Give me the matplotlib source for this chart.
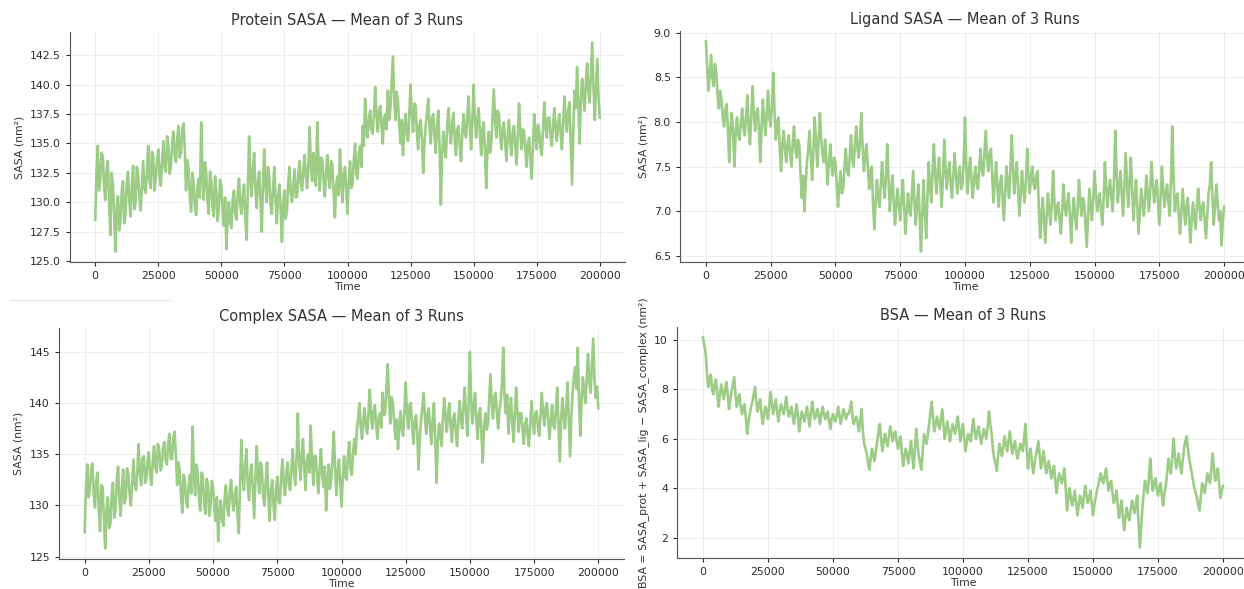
import matplotlib
matplotlib.use("Agg")
import matplotlib.pyplot as plt
from matplotlib.lines import Line2D

# time axis, one frame every 500
time = list(range(0, 200001, 500))

protein = [
    128.5, 132.6, 134.8, 131.0, 132.0, 134.2, 133.9, 131.4, 130.2, 132.8, 133.5, 130.0, 127.2, 132.5, 131.5, 128.8, 125.8, 129.4, 130.5, 127.6,
    128.4, 130.9, 131.8, 128.2, 129.0, 131.6, 132.6, 130.1, 128.8, 131.2, 133.1, 129.4, 130.0, 133.0, 132.4, 130.5, 129.3, 131.4, 133.5, 131.1,
    130.8, 132.6, 134.8, 131.9, 131.2, 134.3, 133.9, 131.0, 132.0, 133.6, 134.5, 132.2, 131.4, 133.5, 135.2, 133.0, 132.6, 135.6, 134.8, 132.4,
    133.0, 135.1, 136.0, 134.0, 133.4, 135.4, 136.5, 133.8, 134.2, 136.2, 136.7, 134.5, 131.0, 133.6, 132.8, 130.4, 129.2, 132.5, 131.6, 129.6,
    128.9, 131.2, 132.0, 130.4, 136.8, 132.4, 130.2, 133.4, 132.5, 130.1, 129.0, 132.6, 131.8, 129.6, 128.8, 132.2, 131.0, 128.4, 129.5, 131.9,
    131.4, 129.2, 128.0, 130.4, 126.0, 128.6, 130.0, 128.2, 127.8, 130.2, 131.0, 129.0, 128.5, 130.8, 132.0, 129.8, 129.0, 130.6, 131.5, 128.6,
    126.8, 131.0, 135.6, 132.0, 130.5, 132.8, 134.2, 131.0, 129.5, 131.8, 132.6, 130.2, 127.5, 131.5, 134.5, 131.4, 130.0, 133.0, 132.0, 129.8,
    129.0, 131.2, 133.0, 130.0, 128.2, 130.6, 131.5, 129.4, 126.6, 129.8, 131.0, 128.6, 129.2, 131.6, 133.0, 130.8, 130.0, 131.4, 132.8, 130.4,
    130.5, 132.4, 133.5, 131.6, 131.0, 132.8, 134.0, 132.2, 131.2, 133.2, 136.4, 133.0, 131.8, 134.2, 133.0, 131.4, 136.8, 133.4, 131.0, 133.8,
    133.6, 131.8, 130.5, 132.6, 134.0, 132.0, 131.2, 133.5, 133.2, 130.8, 128.7, 131.4, 132.2, 130.6, 134.5, 132.0, 130.0, 132.4, 133.0, 131.0,
    129.0, 131.8, 133.5, 131.2, 131.5, 133.6, 135.0, 132.4, 132.0, 134.2, 134.8, 133.0, 136.5, 134.8, 138.8, 136.0, 135.5, 137.2, 137.8, 136.2,
    135.8, 137.6, 139.8, 137.4, 136.0, 137.8, 138.2, 136.4, 135.0, 137.2, 137.5, 136.2, 139.5, 137.0, 138.0, 140.2, 142.4, 139.0, 137.0, 139.4,
    138.5, 136.6, 135.0, 137.0, 134.0, 136.4, 137.5, 135.8, 135.2, 137.6, 140.0, 137.4, 136.0, 138.4, 138.2, 136.0, 134.5, 136.6, 137.0, 135.4,
    132.5, 135.0, 136.5, 137.6, 138.8, 136.4, 135.0, 137.2, 137.5, 135.6, 134.2, 136.6, 137.8, 134.6, 129.8, 134.0, 136.0, 134.8, 133.8, 136.4,
    138.0, 136.2, 135.0, 136.8, 137.6, 135.4, 134.0, 136.2, 136.5, 134.8, 133.5, 135.8, 137.5, 136.0, 135.5, 137.4, 139.0, 136.4, 134.5, 137.0,
    140.0, 137.2, 135.5, 137.0, 138.0, 135.8, 134.0, 136.2, 136.8, 134.2, 131.2, 134.6, 136.0, 134.2, 135.0, 137.4, 139.6, 137.0, 135.5, 137.8,
    137.5, 135.6, 134.5, 136.4, 136.8, 135.0, 133.5, 135.6, 137.0, 135.2, 134.0, 136.0, 136.5, 134.8, 133.2, 135.6, 138.4, 136.0, 134.5, 136.2,
    136.0, 134.4, 133.0, 135.0, 135.5, 133.6, 132.0, 134.8, 137.5, 135.6, 134.5, 136.6, 136.0, 134.6, 134.0, 136.2, 138.5, 136.4, 135.5, 137.2,
    137.2, 135.6, 134.8, 136.6, 138.0, 136.2, 135.2, 136.8, 137.5, 135.8, 134.5, 136.8, 139.0, 137.0, 136.0, 137.8, 138.5, 135.0, 131.5, 136.0,
    139.5, 138.0, 141.5, 138.4, 135.0, 138.6, 140.5, 139.0, 137.8, 140.2, 141.8, 139.4, 138.5, 141.0, 143.6, 139.8, 137.0, 139.6, 142.2, 139.0,
    137.2,
]

ligand = [
    8.90, 8.60, 8.35, 8.55, 8.75, 8.50, 8.40, 8.65, 8.55, 8.30, 8.15, 8.35, 8.25, 8.05, 7.95, 8.15, 8.20, 7.90, 7.55, 7.95,
    8.10, 7.85, 7.50, 7.90, 8.05, 7.85, 7.80, 8.00, 8.15, 7.95, 7.85, 8.05, 8.30, 7.95, 7.75, 8.05, 8.40, 8.10, 7.90, 8.10,
    8.15, 7.90, 7.55, 7.95, 8.25, 8.00, 7.85, 8.10, 8.35, 8.05, 7.95, 8.20, 8.55, 8.10, 7.80, 8.00, 8.05, 7.70, 7.45, 7.75,
    7.90, 7.70, 7.55, 7.75, 7.85, 7.65, 7.50, 7.75, 7.95, 7.70, 7.60, 7.80, 7.75, 7.45, 7.15, 7.40, 7.00, 7.30, 7.55, 7.70,
    7.90, 7.60, 7.35, 7.70, 8.05, 7.75, 7.50, 7.80, 8.10, 7.80, 7.65, 7.55, 7.80, 7.55, 7.30, 7.55, 7.75, 7.50, 7.40, 7.60,
    7.55, 7.30, 7.05, 7.30, 7.45, 7.20, 7.25, 7.50, 7.70, 7.45, 7.40, 7.60, 7.85, 7.60, 7.50, 7.75, 7.95, 7.70, 7.60, 7.80,
    8.10, 7.70, 7.45, 7.65, 7.75, 7.50, 7.25, 7.45, 7.50, 7.10, 6.80, 7.10, 7.35, 7.15, 7.05, 7.30, 7.55, 7.30, 7.15, 7.40,
    7.75, 7.35, 7.00, 7.25, 7.40, 7.10, 6.85, 7.10, 7.25, 7.05, 6.90, 7.15, 7.35, 7.05, 6.75, 7.00, 7.20, 7.00, 6.95, 7.20,
    7.45, 7.10, 6.85, 7.10, 7.30, 6.95, 6.55, 6.95, 7.35, 7.00, 6.70, 7.15, 7.55, 7.25, 7.10, 7.45, 7.75, 7.40, 7.20, 7.45,
    7.60, 7.30, 7.05, 7.40, 7.80, 7.45, 7.25, 7.45, 7.55, 7.30, 7.15, 7.40, 7.65, 7.40, 7.20, 7.40, 7.50, 7.25, 7.30, 7.55,
    8.05, 7.50, 7.20, 7.45, 7.60, 7.35, 7.15, 7.35, 7.50, 7.30, 7.25, 7.50, 7.70, 7.45, 7.40, 7.65, 7.90, 7.60, 7.45, 7.65,
    7.70, 7.40, 7.10, 7.35, 7.55, 7.25, 7.05, 7.30, 7.40, 7.15, 6.90, 7.20, 7.50, 7.30, 7.15, 7.45, 7.85, 7.50, 7.20, 7.40,
    7.55, 7.25, 6.95, 7.20, 7.45, 7.25, 7.10, 7.35, 7.70, 7.40, 7.20, 7.40, 7.50, 7.30, 7.25, 7.40, 7.45, 7.05, 6.70, 6.95,
    7.15, 6.90, 6.65, 6.95, 7.20, 7.00, 6.85, 7.10, 7.45, 7.10, 6.90, 7.05, 7.10, 6.90, 6.75, 7.00, 7.30, 7.05, 6.95, 7.10,
    7.20, 6.95, 6.65, 6.95, 7.15, 6.95, 6.80, 7.05, 7.35, 7.10, 6.95, 7.15, 7.10, 6.85, 6.60, 6.95, 7.25, 7.05, 6.90, 7.15,
    7.45, 7.20, 7.00, 7.15, 7.20, 7.00, 6.85, 7.15, 7.55, 7.25, 7.05, 7.25, 7.35, 7.15, 7.00, 7.35, 7.90, 7.45, 7.10, 7.30,
    7.45, 7.20, 6.95, 7.25, 7.65, 7.35, 7.05, 7.30, 7.60, 7.25, 6.90, 7.15, 7.35, 7.05, 6.75, 7.00, 7.25, 7.10, 6.95, 7.15,
    7.40, 7.20, 7.00, 7.25, 7.55, 7.30, 7.10, 7.25, 7.35, 7.10, 6.85, 7.15, 7.50, 7.25, 7.05, 7.20, 7.30, 7.10, 6.95, 7.35,
    7.95, 7.40, 7.00, 7.15, 7.20, 6.95, 6.75, 7.00, 7.25, 7.05, 6.85, 7.05, 7.15, 6.90, 6.65, 6.90, 7.10, 6.95, 6.80, 7.05,
    7.25, 7.05, 6.90, 7.05, 7.10, 6.90, 6.70, 6.95, 7.20, 7.30, 7.55, 7.15, 6.85, 7.05, 7.30, 7.10, 6.90, 7.00, 6.62, 6.90,
    7.05,
]

complex_ = [
    127.4, 131.8, 134.0, 130.8, 131.5, 133.6, 134.1, 131.2, 129.8, 132.4, 133.2, 129.6, 127.5, 132.0, 131.8, 128.6, 125.8, 129.5, 130.8, 127.8,
    128.2, 131.0, 132.2, 128.8, 129.5, 132.4, 133.8, 130.6, 129.0, 131.8, 133.5, 130.2, 130.8, 133.6, 133.0, 131.0, 130.0, 132.2, 134.5, 132.0,
    131.5, 133.4, 136.0, 133.0, 132.0, 134.6, 134.8, 132.2, 132.5, 134.4, 135.2, 133.0, 132.0, 134.2, 135.8, 133.8, 133.2, 136.0, 135.5, 133.4,
    133.8, 135.6, 136.2, 134.4, 134.0, 136.0, 137.0, 134.6, 134.5, 136.6, 137.2, 135.0, 132.0, 134.2, 133.5, 131.0, 129.3, 133.0, 132.5, 130.4,
    129.8, 132.0, 133.0, 131.2, 137.7, 133.2, 131.0, 134.0, 133.2, 130.8, 129.5, 133.2, 132.8, 130.2, 129.2, 132.6, 132.0, 129.0, 130.0, 132.4,
    131.8, 129.8, 128.5, 130.8, 126.5, 129.2, 130.5, 128.6, 128.0, 130.8, 132.0, 129.8, 129.0, 131.4, 132.5, 130.4, 129.5, 131.2, 131.8, 129.0,
    127.3, 131.8, 136.4, 133.0, 131.5, 134.0, 135.5, 132.0, 130.5, 133.2, 134.0, 131.4, 128.8, 132.8, 135.8, 132.6, 131.2, 134.2, 133.5, 130.8,
    130.0, 132.4, 134.2, 131.0, 128.5, 131.4, 132.5, 130.2, 128.6, 131.6, 132.8, 130.4, 130.2, 132.8, 134.5, 132.2, 131.0, 133.0, 134.2, 132.0,
    131.5, 133.6, 135.5, 133.2, 132.0, 134.6, 139.0, 134.4, 132.5, 134.8, 136.5, 133.6, 131.5, 134.4, 135.0, 133.2, 137.8, 134.6, 132.0, 134.8,
    134.8, 132.8, 131.2, 133.6, 135.5, 133.0, 131.8, 133.8, 129.5, 132.0, 134.0, 131.6, 132.5, 134.6, 137.2, 133.8, 131.0, 133.2, 134.5, 132.2,
    129.9, 132.6, 134.8, 132.8, 132.5, 134.8, 136.2, 133.6, 133.0, 135.2, 136.5, 135.0, 137.5, 138.6, 140.0, 137.6, 136.5, 138.4, 139.5, 137.6,
    137.0, 139.0, 141.3, 138.8, 137.5, 139.2, 139.8, 137.8, 136.5, 138.6, 139.0, 137.6, 141.0, 138.8, 139.0, 141.6, 143.8, 140.4, 138.0, 140.6,
    140.0, 138.2, 136.5, 138.4, 135.5, 137.8, 139.2, 137.4, 136.8, 139.2, 142.0, 139.0, 137.5, 139.8, 140.0, 137.8, 136.0, 138.2, 138.8, 137.0,
    133.5, 136.6, 138.5, 139.6, 141.0, 138.4, 137.0, 139.0, 139.5, 137.4, 136.0, 138.4, 140.0, 136.4, 132.2, 136.2, 138.0, 136.8, 135.8, 138.6,
    140.5, 138.6, 137.2, 139.0, 140.0, 137.8, 136.2, 138.4, 139.0, 137.2, 135.8, 138.2, 140.2, 138.4, 137.5, 139.8, 141.5, 138.8, 136.8, 139.8,
    145.0, 140.2, 138.0, 139.8, 141.0, 138.4, 136.5, 138.8, 139.5, 137.0, 134.2, 137.6, 139.0, 137.4, 137.8, 140.2, 142.8, 140.0, 138.5, 140.6,
    141.0, 139.0, 137.5, 139.4, 140.2, 142.0, 145.4, 140.6, 139.0, 140.8, 137.0, 139.2, 140.5, 138.0, 136.2, 139.0, 141.5, 139.2, 137.2, 139.0,
    139.0, 137.4, 136.0, 138.0, 138.5, 136.8, 135.8, 138.0, 140.2, 138.2, 137.0, 139.0, 139.2, 137.6, 136.8, 138.8, 141.0, 139.0, 137.8, 139.6,
    140.0, 138.2, 136.5, 138.4, 139.8, 137.8, 137.5, 139.4, 141.5, 138.0, 134.3, 138.2, 140.5, 138.8, 137.5, 139.6, 142.0, 138.4, 134.8, 138.6,
    141.0, 142.6, 143.5, 141.4, 145.4, 140.2, 136.8, 140.4, 142.5, 141.0, 140.0, 142.6, 144.8, 142.0, 141.0, 143.6, 146.3, 142.4, 140.5, 141.6,
    139.5,
]

bsa = [
    10.1, 9.8, 9.5, 8.7, 8.1, 8.4, 8.6, 8.0, 7.8, 8.2, 8.4, 7.8, 7.3, 7.8, 8.2, 7.9, 7.6, 8.0, 8.3, 7.8,
    7.2, 7.6, 7.9, 8.2, 8.5, 7.8, 7.3, 7.6, 7.8, 7.3, 7.0, 7.3, 7.4, 6.8, 6.2, 6.7, 7.0, 7.3, 7.5, 7.8,
    8.1, 7.5, 7.1, 7.4, 7.6, 7.0, 6.6, 7.0, 7.3, 7.1, 6.8, 7.4, 7.9, 7.4, 7.0, 7.3, 7.6, 7.1, 6.7, 7.1,
    7.4, 7.2, 7.0, 7.3, 7.7, 7.2, 6.9, 7.1, 7.3, 6.9, 6.6, 7.0, 7.4, 6.9, 6.3, 6.8, 7.1, 6.9, 6.7, 7.0,
    7.3, 6.9, 6.5, 7.0, 7.5, 7.1, 6.8, 7.0, 7.2, 6.9, 6.6, 7.0, 7.3, 7.0, 6.8, 7.0, 7.1, 6.7, 6.4, 6.8,
    7.0, 6.8, 6.7, 7.0, 7.3, 6.9, 6.6, 6.9, 7.2, 7.0, 6.8, 7.0, 7.0, 7.2, 7.5, 6.9, 6.6, 6.8, 6.9, 6.6,
    6.3, 6.8, 7.2, 6.3, 5.8, 5.6, 5.4, 5.0, 4.75, 5.2, 5.6, 5.3, 5.1, 5.5, 5.9, 6.3, 6.6, 6.0, 5.5, 5.9,
    6.2, 5.9, 5.7, 6.1, 6.5, 6.2, 5.9, 6.2, 6.3, 5.9, 5.6, 5.9, 6.1, 5.4, 4.9, 5.3, 5.6, 5.3, 5.0, 5.5,
    5.9, 5.3, 4.8, 5.6, 6.4, 5.8, 5.3, 5.0, 4.75, 5.5, 6.2, 6.0, 5.8, 6.2, 6.6, 7.1, 7.5, 6.8, 6.3, 6.6,
    6.9, 6.6, 6.4, 6.8, 7.2, 6.6, 6.0, 6.4, 6.7, 6.3, 5.9, 6.3, 6.6, 6.4, 6.2, 6.6, 6.9, 6.4, 5.9, 6.3,
    6.6, 6.0, 5.5, 5.9, 6.2, 6.0, 5.9, 6.4, 6.8, 6.3, 6.0, 6.3, 6.5, 6.1, 5.8, 6.1, 6.4, 6.2, 6.0, 6.5,
    7.1, 6.6, 6.2, 5.6, 5.2, 5.0, 4.7, 5.3, 5.8, 5.5, 5.3, 5.7, 6.1, 5.8, 5.5, 5.9, 6.3, 5.8, 5.4, 5.7,
    5.9, 5.5, 5.2, 5.5, 5.8, 5.6, 5.5, 6.0, 6.6, 5.6, 4.8, 5.3, 5.6, 5.1, 4.6, 5.0, 5.3, 5.6, 5.9, 5.3,
    4.8, 5.2, 5.5, 5.0, 4.6, 4.9, 5.1, 4.7, 4.4, 4.7, 4.9, 4.3, 3.8, 4.3, 4.6, 4.4, 4.2, 4.5, 4.8, 4.0,
    3.1, 3.6, 4.0, 3.6, 3.3, 3.6, 3.9, 3.4, 2.9, 3.3, 3.7, 3.5, 3.2, 3.7, 4.1, 3.7, 3.4, 3.6, 3.9, 3.4,
    2.9, 3.3, 3.6, 3.9, 4.1, 4.4, 4.6, 4.3, 4.2, 4.5, 4.8, 4.3, 3.9, 4.2, 4.3, 3.8, 3.4, 3.6, 3.9, 3.3,
    2.8, 3.2, 3.5, 2.8, 2.3, 2.8, 3.2, 2.9, 2.7, 3.1, 3.5, 3.2, 3.0, 3.4, 3.7, 2.6, 1.6, 2.4, 3.2, 3.8,
    4.3, 4.0, 3.8, 4.4, 5.2, 4.4, 3.9, 4.2, 4.4, 4.0, 3.7, 4.0, 4.2, 3.7, 3.3, 3.8, 4.1, 4.6, 5.2, 4.8,
    4.6, 5.3, 6.0, 5.3, 4.8, 5.1, 5.4, 4.9, 4.6, 5.1, 5.6, 5.9, 6.1, 5.6, 5.2, 4.9, 4.6, 4.3, 4.0, 3.8,
    3.6, 3.3, 3.1, 3.7, 4.2, 4.0, 3.8, 4.2, 4.6, 4.4, 4.2, 4.8, 5.4, 4.8, 4.3, 4.6, 4.8, 4.2, 3.6, 3.9,
    4.1,
]

titles = ["Protein SASA — Mean of 3 Runs", "Ligand SASA — Mean of 3 Runs",
          "Complex SASA — Mean of 3 Runs", "BSA — Mean of 3 Runs"]
ylabels = ["SASA (nm²)", "SASA (nm²)", "SASA (nm²)",
           "BSA = SASA_prot + SASA_lig − SASA_complex (nm²)"]
series = [protein, ligand, complex_, bsa]

plt.rcParams["font.family"] = "DejaVu Sans"
plt.rcParams["font.size"] = 7.8

W, H = 1244, 589
fig = plt.figure(figsize=(W / 100, H / 100), dpi=100)

# panel boxes in pixels: left, top, right, bottom
boxes = [(70, 32, 625, 262), (680, 31, 1250, 262),
         (59, 328, 624, 559), (677, 327, 1249, 558)]

for (l, t, r, b), y, title, ylab in zip(boxes, series, titles, ylabels):
    ax = fig.add_axes([l / W, 1 - b / H, (r - l) / W, (b - t) / H])
    ax.plot(time, y, color="#9ccc86", lw=1.9)
    ax.set_title(title, fontsize=10.5, color="#333333", pad=5)
    ax.set_xlabel("Time", labelpad=1, color="#333333")
    ax.set_ylabel(ylab, color="#333333")
    ax.set_xticks([0, 25000, 50000, 75000, 100000, 125000, 150000, 175000, 200000])
    ax.grid(True, color="#ebebeb", lw=0.6)
    ax.set_axisbelow(True)
    for s in ["top", "right"]:
        ax.spines[s].set_visible(False)
    for s in ["left", "bottom"]:
        ax.spines[s].set_color("#555555")
    ax.tick_params(colors="#2b2b2b", length=3, width=0.8)

# faint separator left over in the screenshot
fig.add_artist(Line2D([10 / W, 170 / W], [1 - 300 / H, 1 - 300 / H],
                      color="#e2e2e2", lw=0.8))

fig.savefig("out.png", dpi=100)
